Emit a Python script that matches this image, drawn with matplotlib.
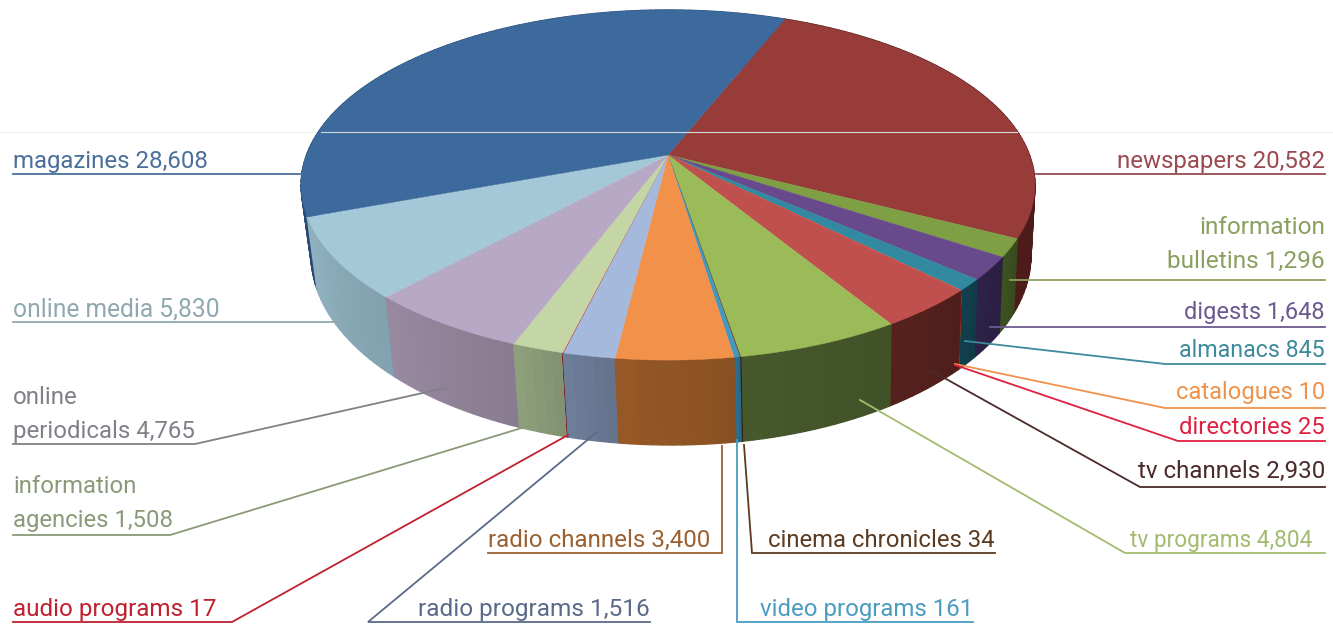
import numpy as np
import matplotlib
matplotlib.use('Agg')
import matplotlib.pyplot as plt
from matplotlib.collections import PolyCollection

plt.rcParams['font.family'] = ['Roboto', 'DejaVu Sans']

# clockwise from the magazines/newspapers edge
names = ['newspapers', 'information\nbulletins', 'digests', 'almanacs', 'catalogues',
         'directories', 'tv channels', 'tv programs', 'cinema chronicles', 'video programs',
         'radio channels', 'radio programs', 'audio programs', 'information\nagencies',
         'online\nperiodicals', 'online media', 'magazines']
values = [20582, 1296, 1648, 845, 10, 25, 2930, 4804, 34, 161, 3400, 1516, 17, 1508, 4765, 5830, 28608]
value_labels = ['20,582', '1,296', '1,648', '845', '10', '25', '2,930', '4,804', '34', '161',
                '3,400', '1,516', '17', '1,508', '4,765', '5,830', '28,608']
top_colors = ['#983c3a', '#7f9f45', '#68498c', '#33899f', '#f79646', '#e03040', '#c0504d', '#9bbb59',
              '#6b4a25', '#4298c0', '#f2924a', '#a5b9dd', '#c02030', '#c5d6a6', '#b7a9c6', '#a5c8d9', '#3d6a9c']
wall_colors = ['#4a1a18', '#3c4f20', '#2c2145', '#123e4c', '#8a4a20', '#801820', '#53201c', '#44552a',
               '#33240f', '#2a6f90', '#905525', '#6a7a94', '#801820', '#8a9a78', '#908399', '#8aaab8', '#2a4d78']
text_colors = ['#9a4a50', '#8ba060', '#6b5a90', '#3d8a9a', '#f0924a', '#e02040', '#4a2a2a', '#a3bb70',
               '#5a3a20', '#4a9cc0', '#9a6030', '#5a6a88', '#c02030', '#8a9a78', '#808088', '#90a8b0', '#4a6f9a']

# label layout in picture pixels: text left, text right, last baseline, leader path
layout = [
    (1117, 1325, 168, [(1325, 174), (1036, 174)]),
    (1167, 1325, 268, [(1325, 280), (1010, 280)]),
    (1184, 1325, 319, [(1325, 327), (990, 327)]),
    (1179, 1325, 357, [(1325, 364), (1165, 364), (965, 341)]),
    (1176, 1325, 399, [(1325, 408), (1165, 408), (955, 364)]),
    (1179, 1325, 434, [(1325, 441), (1178, 441), (955, 365)]),
    (1137, 1325, 478, [(1325, 487), (1140, 487), (930, 370)]),
    (1130, 1312, 547, [(1325, 553), (1125, 553), (860, 400)]),
    (768, 995, 547, [(995, 553), (752, 553), (744, 445)]),
    (760, 973, 616, [(973, 622), (737, 622), (737, 440)]),
    (488, 710, 547, [(488, 553), (722, 553), (722, 446)]),
    (418, 650, 616, [(650, 622), (368, 622), (597, 432)]),
    (13, 217, 616, [(13, 622), (232, 622), (568, 435)]),
    (13, 173, 527, [(13, 535), (170, 535), (548, 420)]),
    (13, 195, 438, [(13, 444), (195, 444), (445, 388)]),
    (13, 220, 316, [(13, 322), (345, 322)]),
    (13, 208, 168, [(13, 174), (303, 174)]),
]

start_deg = 22.0
cx, top_cy, bot_cy = 668.0, 155.0, 222.4
top_a, top_b = 169.9, 361.5
bot_a, bot_b = 184.4, 354.6
k = 0.1716


def top_xy(t):
    u, v = np.sin(t), np.cos(t)
    return cx + top_b * u / (1 + k * v), top_cy - top_a * v / (1 + k * v)


def bot_xy(t):
    u, v = np.sin(t), np.cos(t)
    return cx + 3 + bot_b * u / (1 + k * v), bot_cy - bot_a * v / (1 + k * v)


fig = plt.figure(figsize=(13.33, 6.24), dpi=100)
ax = fig.add_axes([0, 0, 1, 1])
ax.set_xlim(0, 1333)
ax.set_ylim(624, 0)
ax.axis('off')

fracs = np.array(values) / sum(values)
edges = np.radians(start_deg) + np.concatenate([[0], np.cumsum(fracs)]) * 2 * np.pi

# walls first, back to front
strips, strip_cols = [], []
for i, c in enumerate(wall_colors):
    n = max(2, int(np.degrees(edges[i + 1] - edges[i]) / 1.5) + 1)
    ts = np.linspace(edges[i], edges[i + 1], n + 1)
    base = np.array(matplotlib.colors.to_rgb(c))
    for j in range(n):
        t0, t1 = ts[j], ts[j + 1]
        x0, y0 = top_xy(t0)
        x1, y1 = top_xy(t1)
        x2, y2 = bot_xy(t1)
        x3, y3 = bot_xy(t0)
        strips.append((np.cos((t0 + t1) / 2), [(x0, y0), (x1, y1), (x2, y2), (x3, y3)]))
        shade = 0.95 + 0.1 * (j / n)
        strip_cols.append(np.clip(base * shade, 0, 1))
order = np.argsort([-s[0] for s in strips])
walls = PolyCollection([strips[o][1] for o in order], facecolors=[strip_cols[o] for o in order],
                       edgecolors=[strip_cols[o] for o in order], linewidths=1.0, zorder=1)
ax.add_collection(walls)

# top face
for i, c in enumerate(top_colors):
    ts = np.linspace(edges[i], edges[i + 1], max(3, int(np.degrees(edges[i + 1] - edges[i])) + 2))
    xs, ys = top_xy(ts)
    ax.fill(np.r_[cx, xs], np.r_[top_cy, ys], color=c, lw=0.3, zorder=2)

# thin scan line across the picture
ax.plot([0, 1333], [132, 132], color='#f1f1f1', lw=0.8, zorder=0)
ax.plot([321, 1017], [132, 132], color='#d5d9dd', lw=0.8, zorder=3)

# labels with their leader lines
for name, val, col, (x0, x1, base, path) in zip(names, value_labels, text_colors, layout):
    px, py = zip(*path)
    ax.plot(px, py, color=col, lw=1.3, zorder=4, solid_joinstyle='miter')
    right = x0 > 666 and x1 > 1300
    lines = name.split('\n')
    last = lines[-1] + ' ' + val
    t = ax.text(x1 if right else x0, base, last, color=col, fontsize=16,
                ha='right' if right else 'left', va='baseline', zorder=5)
    w = t.get_window_extent(fig.canvas.get_renderer()).width
    size = 16 * (x1 - x0) / w
    t.set_fontsize(size)
    if len(lines) > 1:
        ax.text(x1 if right else x0, base - 34, lines[0], color=col, fontsize=size,
                ha='right' if right else 'left', va='baseline', zorder=5)

fig.savefig('out.png', dpi=100)
